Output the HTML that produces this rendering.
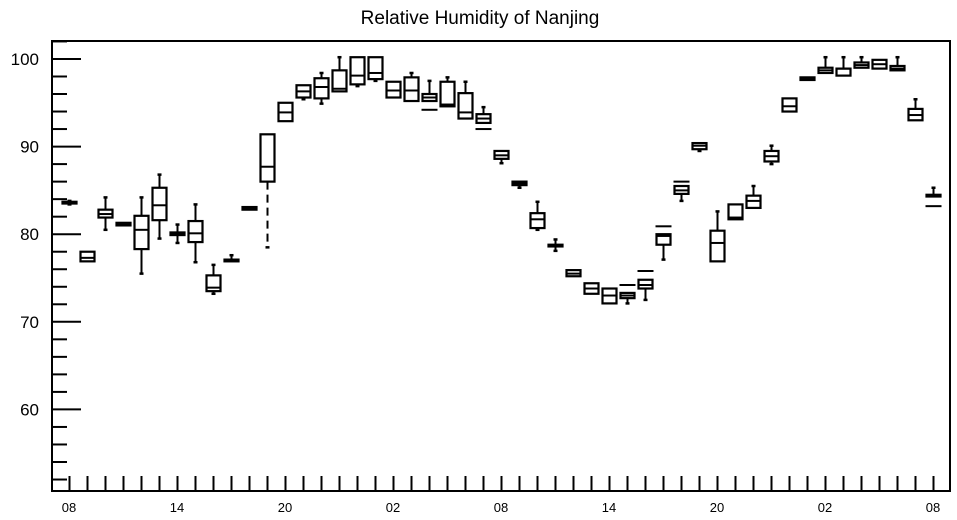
<!DOCTYPE html>
<html><head><meta charset="utf-8"><style>
html,body{margin:0;padding:0;background:#fff;}
svg{display:block;font-family:"Liberation Sans",Arial,sans-serif;}
</style></head><body>
<svg id="chart" width="957" height="520" viewBox="0 0 957 520">
<text x="480" y="24" text-anchor="middle" font-size="19">Relative Humidity of Nanjing</text>
<rect x="52" y="41" width="898" height="450" fill="none" stroke="#000" stroke-width="2"/>
<g id="yaxis"></g>
<g id="xaxis"></g>
<g id="boxes"></g>
</svg>
<script>
const hours = [8,9,10,11,12,13,14,15,16,17,18,19,20,21,22,23,0,1,2,3,4,5,6,7,8,9,10,11,12,13,14,15,16,17,18,19,20,21,22,23,0,1,2,3,4,5,6,7,8];
const q1  = [83.5,76.9,81.9,81.0,78.3,81.6,79.9,79.1,73.5,76.9,82.8,86.0,92.9,95.6,95.5,96.3,97.1,97.7,95.6,95.2,95.2,94.6,93.2,92.7,88.6,85.6,80.7,78.6,75.2,73.2,72.1,72.7,73.8,78.8,84.6,89.7,76.9,81.7,83.0,88.3,94.0,97.6,98.4,98.1,99.0,98.9,98.7,93.0,84.3];
const med = [83.6,77.3,82.3,81.1,80.5,83.3,80.1,80.1,73.9,77.0,83.0,87.7,93.9,96.3,96.8,96.6,98.1,98.4,96.4,96.4,95.6,94.8,93.9,93.2,89.0,85.8,81.7,78.7,75.5,73.8,73.0,73.0,74.2,79.8,85.0,90.1,79.0,81.9,83.8,88.9,94.6,97.7,98.7,98.9,99.3,99.4,98.9,93.6,84.4];
const q3  = [83.7,78.0,82.8,81.3,82.1,85.3,80.2,81.5,75.3,77.1,83.1,91.4,95.0,97.0,97.8,98.7,100.2,100.2,97.4,97.9,96.0,97.4,96.1,93.7,89.5,86.0,82.4,78.8,75.9,74.4,73.8,73.3,74.8,80.0,85.5,90.4,80.4,83.4,84.4,89.5,95.5,97.9,99.0,98.9,99.6,99.9,99.2,94.3,84.5];
const wlo = [83.4,76.9,80.5,81.0,75.5,79.5,79.0,76.8,73.2,76.9,82.8,78.5,92.9,95.4,94.9,96.3,96.9,97.5,95.6,95.2,95.2,94.6,93.2,92.7,88.1,85.3,80.5,78.1,75.2,73.2,72.1,72.1,72.5,77.1,83.8,89.5,76.9,81.7,83.0,88.0,94.0,97.6,98.4,98.1,99.0,98.9,98.7,93.0,84.3];
const whi = [83.8,78.0,84.2,81.3,84.2,86.8,81.1,83.4,76.5,77.6,83.1,91.4,94.6,97.0,98.4,100.2,100.2,100.2,97.4,98.4,97.5,97.9,97.4,94.5,89.5,86.0,83.7,79.4,75.9,74.4,73.8,73.3,74.8,80.0,85.5,90.4,82.6,83.4,85.5,90.1,95.5,97.9,100.2,100.2,100.2,99.9,100.2,95.4,85.3];
const extra = [null,null,null,null,null,null,null,null,null,null,null,null,null,null,null,null,null,null,null,null,94.2,94.6,null,92.0,null,null,null,null,null,null,null,74.2,75.8,80.9,86.0,null,null,null,null,null,null,null,null,null,null,null,null,null,83.2];
const yTicks = [60,70,80,90,100];
const xLabels = ["08","14","20","02","08","14","20","02","08"];

const NS="http://www.w3.org/2000/svg";
const yMin=50.69, yMax=102.05, plotTop=41, plotBot=491;
function ys(v){return plotBot-(v-yMin)/(yMax-yMin)*(plotBot-plotTop);}
function xs(i){return 69.5+18*i;}
function mk(tag,attrs,parent){const e=document.createElementNS(NS,tag);for(const k in attrs)e.setAttribute(k,attrs[k]);parent.appendChild(e);return e;}
const ya=document.getElementById('yaxis'), xa=document.getElementById('xaxis'), bx=document.getElementById('boxes');
for(let v=52; v<=102; v+=2){
  const major = v%10===0;
  const t=mk('line',{x1:52,x2:major?81:67,y1:ys(v),y2:ys(v),stroke:'#000','stroke-width':2},ya);
  
  
}
yTicks.forEach(v=>{
  const t=mk('text',{x:39,y:ys(v)+6,'text-anchor':'end','font-size':17},ya);
  t.textContent=v;
  
  
});
hours.forEach((h,i)=>{
  const t=mk('line',{x1:xs(i),x2:xs(i),y1:plotBot,y2:plotBot-15,stroke:'#000','stroke-width':2},xa);
  
  
});
xLabels.forEach((l,k)=>{
  const t=mk('text',{x:xs(k*6)-0.5,y:512,'text-anchor':'middle','font-size':13},xa);
  t.textContent=l;
  
  
});
hours.forEach((h,i)=>{
  const g=mk('g',{},bx);
  
  
  const cx=xs(i), hw=7;
  const yt=ys(q3[i]), yb=ys(q1[i]);
  const dash = i===11 ? '8,5' : 'none';
  if(whi[i]>q3[i]){
    mk('line',{x1:cx,x2:cx,y1:ys(whi[i]),y2:yt,stroke:'#000','stroke-width':2,'stroke-dasharray':dash},g);
    mk('line',{x1:cx-2,x2:cx+2,y1:ys(whi[i]),y2:ys(whi[i]),stroke:'#000','stroke-width':2.5},g);
  }
  if(wlo[i]<q1[i]){
    mk('line',{x1:cx,x2:cx,y1:yb,y2:ys(wlo[i]),stroke:'#000','stroke-width':2,'stroke-dasharray':dash},g);
    mk('line',{x1:cx-2,x2:cx+2,y1:ys(wlo[i]),y2:ys(wlo[i]),stroke:'#000','stroke-width':2.5},g);
  }
  mk('rect',{x:cx-hw,y:yt,width:2*hw,height:Math.max(yb-yt,1.5),fill:'none',stroke:'#000','stroke-width':2.2},g);
  mk('line',{x1:cx-hw,x2:cx+hw,y1:ys(med[i]),y2:ys(med[i]),stroke:'#000','stroke-width':2},g);
  if(extra[i]!==null){
    mk('line',{x1:cx-hw-1,x2:cx+hw+1,y1:ys(extra[i]),y2:ys(extra[i]),stroke:'#000','stroke-width':2},g);
  }
});
</script>
</body></html>
